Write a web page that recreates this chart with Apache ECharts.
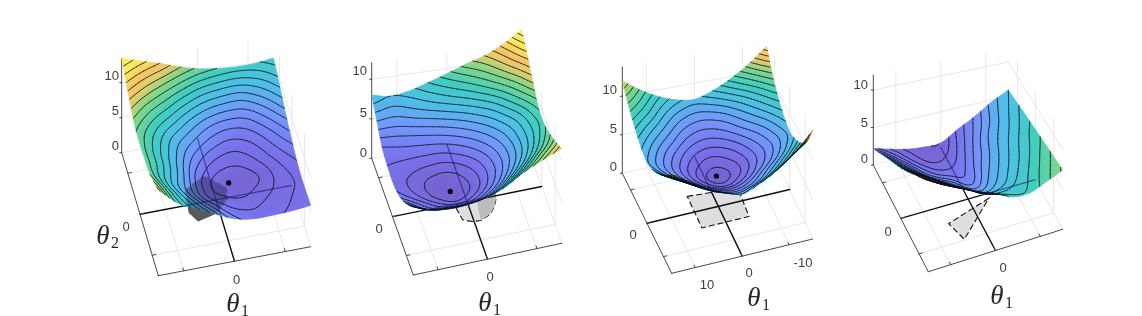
<!DOCTYPE html>
<html><head><meta charset="utf-8">
<style>html,body{margin:0;padding:0;background:#fff}#c{width:1142px;height:316px}</style>
<script src="https://cdn.jsdelivr.net/npm/echarts@6/dist/echarts.min.js"></script>
</head><body><div id="c"></div>
<script>
// ---- values ----
const thetaTicks = [-10, 0, 10];
const zTicks = [0, 5, 10];
const contourLevels = [0.5,1,1.5,2,2.5,3,3.5,4,4.5,5,5.5,6,6.5,7,7.5,8,8.5,9,9.5,10,10.5,11,11.5,12,12.5,13,13.5,14];
// loss heights: rows go front -> back along theta2, columns go left -> right along theta1 (+15 -> -15)
const loss1 = [
 [10.7,8.8,7.7,6.7,5.7,5.3,5.4,5.6,6.0],
 [10.0,8.3,7.0,5.9,5.1,4.9,5.1,5.4,5.8],
 [9.4,7.8,6.4,5.1,4.55,4.45,4.8,5.2,5.7],
 [9.3,8.0,6.6,5.0,4.15,4.05,4.5,5.3,6.0],
 [9.3,8.1,6.9,5.6,4.75,4.55,5.0,5.8,6.6],
 [9.6,8.5,7.4,6.5,5.7,5.3,5.6,6.4,7.4],
 [10.6,9.5,8.6,7.6,6.8,6.4,6.5,7.3,8.4],
 [12.0,11.0,10.1,9.2,8.4,8.0,7.9,8.5,9.4],
 [13.5,12.7,12.0,11.1,10.4,10.0,9.8,9.9,10.3]];
const loss2 = [
 [8.0,7.3,7.15,7.1,7.4,8.2,9.5,10.5,11.4],
 [6.6,5.6,5.2,5.2,5.6,6.6,8.0,9.4,10.5],
 [5.4,4.7,4.1,3.8,4.3,5.3,6.7,8.2,9.7],
 [4.6,4.0,3.4,3.1,3.6,4.7,6.0,7.5,9.1],
 [4.3,3.9,3.4,3.2,3.8,4.8,6.0,7.4,8.8],
 [4.5,4.4,4.3,4.3,4.8,5.6,6.6,7.8,9.4],
 [5.0,5.2,5.4,5.7,6.2,6.9,7.8,9.2,10.9],
 [6.5,6.4,6.8,7.3,7.9,8.6,9.6,10.9,12.4],
 [8.0,7.5,7.8,8.5,9.3,10.2,11.0,12.2,13.9]];
const loss3 = [
 [12.0,10.6,9.3,8.3,7.6,8.4,9.6,11.3,13.6],
 [10.4,9.2,7.9,6.9,6.5,6.9,7.9,9.2,10.8],
 [9.1,7.9,6.8,5.8,5.4,5.8,6.8,7.9,9.2],
 [8.1,6.9,5.8,4.8,4.3,4.8,5.8,6.9,8.2],
 [7.6,6.5,5.4,4.3,3.7,4.3,5.4,6.5,7.7],
 [8.1,6.9,5.8,4.8,4.3,4.8,5.8,6.9,8.2],
 [9.1,7.9,6.8,5.8,5.4,5.8,6.8,7.9,9.2],
 [10.4,9.2,7.9,6.9,6.5,6.9,7.9,9.2,10.8],
 [12.0,10.4,9.1,8.2,7.8,8.5,9.7,11.3,13.4]];
const loss4 = [
 [11.0,9.8,8.7,7.7,6.9,5.8,5.6,6.3,7.1],
 [9.8,8.5,7.4,6.3,5.2,5.0,5.3,6.0,6.75],
 [8.7,7.4,6.1,5.0,3.9,4.2,4.9,5.65,6.45],
 [7.5,6.3,4.9,3.7,2.9,3.7,4.5,5.3,6.1],
 [6.4,5.0,3.6,2.8,2.2,3.25,4.15,5.0,5.8],
 [5.4,3.9,2.6,1.95,1.85,2.8,3.85,4.65,5.45],
 [4.4,3.0,1.9,1.3,1.45,2.4,3.5,4.3,5.15],
 [3.3,2.2,1.3,0.8,1.0,2.0,3.0,4.0,4.8],
 [2.2,1.5,0.9,0.6,0.55,1.65,2.6,3.7,4.5]];
// shaded regions on the floor, as [theta1, theta2]
const region1 = [[5.3,3.4],[1.1,6.1],[-2.6,2.4],[-2.3,-0.4],[0.3,-3.0],[4.5,-4.1],[5.7,-1.8]];
const region2 = [[2.5,-1],[2.05,-4.2],[0.4,-5.1],[-1.33,-5.3],[-3.4,-4.3],[-4.8,-2.6],[-5.8,-0.3],[-5.4,2],[-2.3,4.1],[1.5,2.55]];
const region3 = [[4.95,4.7],[-5.3,3.7],[-4.9,-4.7],[5.07,-4.76]];
const region4 = [[-4.08,-1.33],[6.27,-4.73],[4.84,-9.8]];
// minimum marks: [theta1, theta2, loss]
const min1 = [-1.8,-2.9,3.8];
const min2 = [4.1,-2.6,3.0];
const min3 = [0.2,0.6,3.7];
// ---- layout ----
const views = [
 {FL:[158.3,275.7],FR:[310.7,246.7],BR:[273.3,124],BL:[121.7,152.7],sc:{FL:8,FR:6.9,BR:6.4,BL:7},zTop:13.5,
  loss:loss1,region:region1,min:min1,cOff:[1.2,-1],cV:0,dark:true,
  zLab:[[119,146.7],[119,111.7],[119,76.7]],tLab:[[236.7,280,'0']],yLab:[126,227],t1:[233,305],t2:[103,237]},
 {FL:[413.3,275],FR:[561.7,243.3],BR:[521.7,129.7],BL:[371.7,158.3],sc:{FL:8.5,FR:8.3,BR:7.2,BL:7.9},zTop:12.1,
  loss:loss2,region:region2,min:min2,cOff:[0.4,1],cV:0,speck:true,
  zLab:[[367,153],[367,113],[367,71.7]],tLab:[[490,277,'0']],yLab:[379,229],t1:[485,304]},
 {FL:[671.7,273.3],FR:[812.7,239],BR:[766.7,140],BL:[622.3,173.3],sc:{FL:8.3,FR:8,BR:7,BL:7.7},zTop:13.8,
  loss:loss3,region:region3,min:min3,cOff:[0,0],cV:0,
  zLab:[[617,167],[617,129],[617,90]],tLab:[[749,273,'0'],[707,285,'10'],[803,263,'-10']],yLab:[633,235],t1:[754,299]},
 {FL:[928.3,271.7],FR:[1062.7,229.3],BR:[1008.3,130],BL:[873.3,165],sc:{FL:8.3,FR:8.35,BR:8.9,BL:7.5},wallSc:{FL:8.3,FR:8,BR:6.8,BL:7.5},zTop:12,
  loss:loss4,region:region4,min:null,cOff:[3,3.6],cV:0.3,
  zLab:[[868,159],[868,123],[868,85]],tLab:[[1003,268,'0']],yLab:[888,232],t1:[997,297]}
];
const FINE = 8;
const stops = [[3.5,116,94,205],[5,118,112,235],[6.5,112,150,252],[8,75,190,230],[9.5,60,205,190],[11,130,215,130],[11.9,225,205,105],[12.6,245,195,100],[13.8,250,235,90]];
function colorRGB(z){
  if(z<=stops[0][0]) return stops[0].slice(1);
  for(let i=1;i<stops.length;i++){ if(z<=stops[i][0]){const a=stops[i-1],b=stops[i],t=(z-a[0])/(b[0]-a[0]);
    return [a[1]+(b[1]-a[1])*t,a[2]+(b[2]-a[2])*t,a[3]+(b[3]-a[3])*t];}}
  return stops[stops.length-1].slice(1);
}
const rgb=c=>`rgb(${c[0]|0},${c[1]|0},${c[2]|0})`;
function projectWith(sc,v,th1,th2,z){
  const u=(15-th1)/30,w=(th2+15)/30;
  const mix=(a,b,c,d)=>a*(1-u)*(1-w)+b*u*(1-w)+c*u*w+d*(1-u)*w;
  const x=mix(v.FL[0],v.FR[0],v.BR[0],v.BL[0]),y=mix(v.FL[1],v.FR[1],v.BR[1],v.BL[1]);
  const s=mix(sc.FL,sc.FR,sc.BR,sc.BL);
  return [x,y-(z||0)*s];
}
const project=(v,a,b,z)=>projectWith(v.sc,v,a,b,z);
const projectWall=(v,a,b,z)=>projectWith(v.wallSc||v.sc,v,a,b,z);
function cr(a,b,c,d,t){return 0.5*((2*b)+(c-a)*t+(2*a-5*b+4*c-d)*t*t+(3*b-a-3*c+d)*t*t*t);}
function sample(g,cx,ry){
  const n=g.length-1,m=g[0].length-1;
  const ci=Math.min(Math.floor(cx),m-1),ri=Math.min(Math.floor(ry),n-1);
  const at=(r,c)=>{
    const rr=Math.max(0,Math.min(n,r)),cc=Math.max(0,Math.min(m,c));
    let val=g[rr][cc];
    if(r<0) val+=g[0][cc]-g[1][cc]; if(r>n) val+=g[n][cc]-g[n-1][cc];
    if(c<0) val+=g[rr][0]-g[rr][1]; if(c>m) val+=g[rr][m]-g[rr][m-1];
    return val;};
  const col=r=>cr(at(r,ci-1),at(r,ci),at(r,ci+1),at(r,ci+2),cx-ci);
  return cr(col(ri-1),col(ri),col(ri+1),col(ri+2),ry-ri);
}
function inPoly(p,poly){let c=false;for(let i=0,j=poly.length-1;i<poly.length;j=i++){
  const a=poly[i],b=poly[j];if((a[1]>p[1])!==(b[1]>p[1])&&p[0]<(b[0]-a[0])*(p[1]-a[1])/(b[1]-a[1])+a[0])c=!c;}return c;}
views.forEach(v=>{
  const N=(v.loss.length-1)*FINE,M=(v.loss[0].length-1)*FINE;
  const Z=[],P=[];
  for(let r=0;r<=N;r++){Z[r]=[];P[r]=[];for(let c=0;c<=M;c++){
    const z=sample(v.loss,c/FINE,r/FINE);Z[r][c]=z;
    P[r][c]=project(v,15-30*c/M,-15+30*r/N,z);}}
  v.Z=Z;v.P=P;v.N=N;v.M=M;
  v.regionP=v.region.map(t=>project(v,t[0],t[1],0));
  const mask=new Uint8Array(1142*316);
  for(let r=0;r<N;r++)for(let c=0;c<M;c++){
    const q=[P[r][c],P[r][c+1],P[r+1][c+1],P[r+1][c]];
    const xs=q.map(a=>a[0]),ys=q.map(a=>a[1]);
    for(let y=Math.floor(Math.min(...ys));y<=Math.ceil(Math.max(...ys));y++)
      for(let x=Math.floor(Math.min(...xs));x<=Math.ceil(Math.max(...xs));x++)
        if(x>=0&&y>=0&&x<1142&&y<316&&inPoly([x+.5,y+.5],q))mask[y*1142+x]=1;}
  v.mask=mask;
});
const tickFont='13px "Liberation Sans", Arial, sans-serif';
function textEl(api,p,text,font,fill,align,base){const c=api.coord(p);
  return {type:'text',x:c[0],y:c[1],silent:true,style:{text:text,font:font,fill:fill,align:align||'center',verticalAlign:base||'middle'}};}
function lineEl(api,a,b,stroke,lw,dash){const A=api.coord(a),B=api.coord(b);
  return {type:'line',silent:true,shape:{x1:A[0],y1:A[1],x2:B[0],y2:B[1]},style:{stroke:stroke,lineWidth:lw,lineDash:dash||null,lineCap:'round'}};}
function renderBack(v,api){
  const ch=[],G='#e8e8e8',D='#4a4a4a';
  const top=v.zTop,W=projectWall;
  thetaTicks.forEach(t=>{
    ch.push(lineEl(api,W(v,t,15,0),W(v,t,15,top),G,1));
    ch.push(lineEl(api,W(v,-15,t,0),W(v,-15,t,top),G,1));
    if(t!==0){ch.push(lineEl(api,W(v,t,-15,0),W(v,t,15,0),G,1));
      ch.push(lineEl(api,W(v,-15,t,0),W(v,15,t,0),G,1));}
  });
  zTicks.forEach(z=>{ if(z===0)return;
    ch.push(lineEl(api,W(v,15,15,z),W(v,-15,15,z),G,1));
    ch.push(lineEl(api,W(v,-15,15,z),W(v,-15,-15,z),G,1));
  });
  ch.push(lineEl(api,W(v,15,15,0),W(v,-15,15,0),G,1));
  ch.push(lineEl(api,W(v,-15,15,0),W(v,-15,-15,0),G,1));
  const pts=v.regionP.map(p=>api.coord(p));
  ch.push({type:'polygon',silent:true,shape:{points:pts},style:{fill:v.dark?'#5a5a5a':'#dedede',stroke:v.dark?'#555':'#111',lineWidth:1.1,lineDash:v.dark?null:[6,3]}});
  if(v.speck){
    const sub=[[-1.3,-5.3],[-3.4,-4.3],[-4.8,-2.6],[-5.8,-0.3],[-5.4,2],[-2.3,4.1]].map(t=>api.coord(W(v,t[0],t[1],0)));
    ch.push({type:'polygon',silent:true,shape:{points:sub},style:{fill:'#bcbcbc'}});
  }
  ch.push(lineEl(api,W(v,0,-15,0),W(v,0,15,0),'#111',1.4));
  ch.push(lineEl(api,W(v,15,0,0),W(v,-15,0,0),'#111',1.4));
  ch.push(lineEl(api,W(v,15,15,0),W(v,15,15,top),D,1));
  ch.push(lineEl(api,W(v,15,15,0),W(v,15,-15,0),D,1));
  ch.push(lineEl(api,W(v,15,-15,0),W(v,-15,-15,0),D,1));
  thetaTicks.forEach(t=>{
    ch.push(lineEl(api,W(v,t,-15,0),W(v,t,-14.3,0),D,1));
    ch.push(lineEl(api,W(v,15,t,0),W(v,14.3,t,0),D,1));
  });
  zTicks.forEach((z,i)=>{
    const p=W(v,15,15,z);
    ch.push(lineEl(api,p,[p[0]-2,p[1]],D,1));
    ch.push(textEl(api,v.zLab[i],String(z),tickFont,'#404040','right'));
  });
  v.tLab.forEach(l=>ch.push(textEl(api,[l[0],l[1]],l[2],tickFont,'#404040')));
  ch.push(textEl(api,v.yLab,'0',tickFont,'#404040'));
  const sFont='italic 27px "Liberation Serif", serif',subFont='16px "Liberation Serif", serif';
  ch.push(textEl(api,v.t1,'\u03b8',sFont,'#262626','center'));
  ch.push(textEl(api,[v.t1[0]+12,v.t1[1]+7],'1',subFont,'#262626','center'));
  if(v.t2){ch.push(textEl(api,v.t2,'\u03b8',sFont,'#262626','center'));
    ch.push(textEl(api,[v.t2[0]+12,v.t2[1]+7],'2',subFont,'#262626','center'));}
  return {type:'group',children:ch};
}
function renderCell(v,c0,r0,api){
  const ch=[];
  for(let r=r0*FINE+FINE-1;r>=r0*FINE;r--)for(let c=c0*FINE;c<c0*FINE+FINE;c++){
    const q=[v.P[r][c],v.P[r][c+1],v.P[r+1][c+1],v.P[r+1][c]];
    const z=(v.Z[r][c]+v.Z[r][c+1]+v.Z[r+1][c+1]+v.Z[r+1][c])/4;
    const tilt=v.cOff[0]+(v.cOff[1]-v.cOff[0])*(c+.5)/v.M+v.cV*(1-(r+.5)/v.N);
    let col=colorRGB(z+tilt);
    if(v.dark){const m=[(q[0][0]+q[2][0])/2,(q[0][1]+q[2][1])/2];
      if(inPoly(m,v.regionP))col=col.map((x,i)=>x*0.62+[30,30,50][i]*0.38);}
    const f=rgb(col);
    ch.push({type:'polygon',silent:true,shape:{points:q.map(p=>api.coord(p))},style:{fill:f,stroke:f,lineWidth:0.6}});
  }
  return {type:'group',children:ch};
}
function renderFront(v,api){
  const ch=[],lp=(a,b,t)=>[a[0]+(b[0]-a[0])*t,a[1]+(b[1]-a[1])*t];
  const LC='rgba(12,12,30,0.9)',LW=0.7;
  for(let r=0;r<v.N;r++)for(let c=0;c<v.M;c++){
    const id=[[r,c],[r,c+1],[r+1,c+1],[r+1,c]];
    const zs=id.map(k=>v.Z[k[0]][k[1]]),ps=id.map(k=>v.P[k[0]][k[1]]);
    const lo=Math.min(...zs),hi=Math.max(...zs);
    contourLevels.forEach(L=>{
      if(L<lo||L>=hi)return;
      const cr=[];
      for(let i=0;i<4;i++){const j=(i+1)%4;
        if((zs[i]<L)!==(zs[j]<L))cr.push(lp(ps[i],ps[j],(L-zs[i])/(zs[j]-zs[i])));}
      if(cr.length>=2)ch.push(lineEl(api,cr[0],cr[1],LC,LW));
      if(cr.length===4)ch.push(lineEl(api,cr[2],cr[3],LC,LW));
    });
  }
  [[project(v,0,-15,0),project(v,0,15,0)],[project(v,15,0,0),project(v,-15,0,0)]].forEach(a=>{
    const n=120;for(let i=0;i<n;i++){const s=lp(a[0],a[1],i/n),e=lp(a[0],a[1],(i+1)/n),m=lp(s,e,.5);
      const x=Math.floor(m[0]),y=Math.floor(m[1]);
      if(v.mask[y*1142+x])ch.push({type:'line',silent:true,shape:{x1:api.coord(s)[0],y1:api.coord(s)[1],x2:api.coord(e)[0],y2:api.coord(e)[1]},style:{stroke:'rgba(30,20,110,0.62)',lineWidth:1.2}});}
  });
  if(v.min){const p=api.coord(project(v,v.min[0],v.min[1],v.min[2]));
    ch.push({type:'circle',silent:true,shape:{cx:p[0],cy:p[1],r:2.6},style:{fill:'#000'}});}
  return {type:'group',children:ch};
}
const series=[];
const base={type:'custom',coordinateSystem:'cartesian2d',animation:false,silent:true,clip:false,encode:{x:0,y:1}};
views.forEach((v,i)=>{
  series.push(Object.assign({},base,{name:'axes'+(i+1),z:2,data:[[0,0]],renderItem:(p,api)=>renderBack(v,api)}));
  const cells=[];
  for(let r=v.loss.length-2;r>=0;r--)for(let c=0;c<v.loss[0].length-1;c++)cells.push([c,r,v.loss[r][c]]);
  series.push(Object.assign({},base,{name:'loss'+(i+1),z:3,data:cells,
    renderItem:(p,api)=>renderCell(v,api.value(0),api.value(1),api)}));
  series.push(Object.assign({},base,{name:'contours'+(i+1),z:4,data:[[0,0]],renderItem:(p,api)=>renderFront(v,api)}));
});
const chart=echarts.init(document.getElementById('c'),null,{renderer:'canvas',width:1142,height:316});
chart.setOption({animation:false,backgroundColor:'#fff',
  grid:{left:0,right:0,top:0,bottom:0},
  xAxis:{type:'value',min:0,max:1142,show:false},
  yAxis:{type:'value',min:0,max:316,inverse:true,show:false},
  series:series});
</script></body></html>
